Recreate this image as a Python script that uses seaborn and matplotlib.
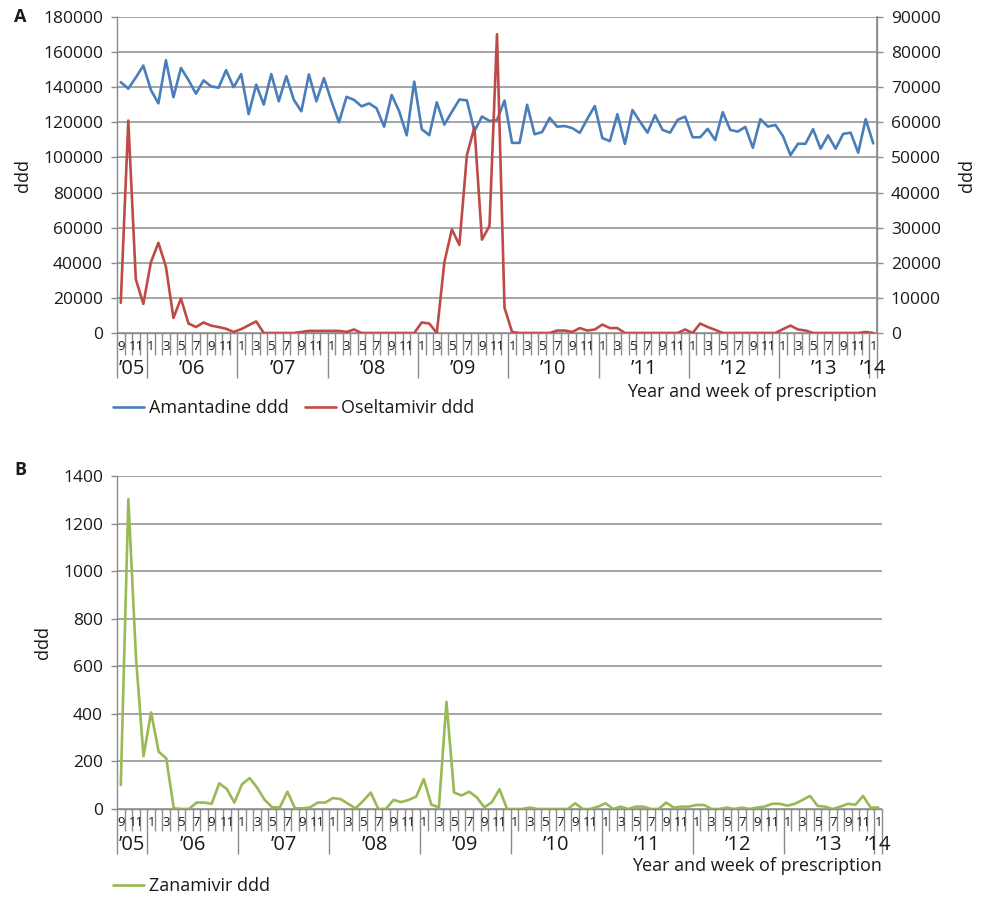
import numpy as np
import pandas as pd
import matplotlib
matplotlib.use("Agg")
import matplotlib.pyplot as plt
import matplotlib.transforms as mtransforms
from matplotlib.lines import Line2D
import seaborn as sns

# ---------------- data ----------------
years = ["\u201905", "\u201906", "\u201907", "\u201908", "\u201909", "\u201910",
         "\u201911", "\u201912", "\u201913", "\u201914"]
periods_per_year = [4, 12, 12, 12, 12, 12, 12, 12, 12, 1]
first_period = 9

amantadine = [142900, 139200, 145500, 152300, 138500, 130800, 155400, 134300, 151000, 144100,
              136300, 143900, 140500, 139700, 149700, 140000, 147500, 124700, 141500, 130100,
              147500, 132000, 146300, 132800, 126300, 147300, 132000, 145200, 132000, 120000,
              134500, 132800, 129100, 130800, 128000, 117500, 135600, 126300, 112600, 143200,
              116100, 112700, 131400, 118700, 126000, 133000, 132500, 115000, 123300, 120800,
              121300, 132400, 108300, 108300, 130000, 113200, 114500, 122600, 117500, 117900,
              116700, 114000, 122000, 129300, 111000, 109300, 124600, 107700, 127000, 120400,
              114100, 124100, 115700, 114100, 121400, 123300, 111500, 111500, 116300, 109900,
              125800, 115700, 114700, 117400, 105500, 121800, 117600, 118500, 112200, 101300,
              107800, 107800, 116100, 105000, 112600, 105000, 113400, 114100, 102700, 121800,
              108000]

oseltamivir = [8600, 60500, 15300, 8300, 20100, 25700, 18900, 4300, 9800, 2700,
               1700, 3000, 2100, 1700, 1200, 300, 1100, 2200, 3300, 0,
               0, 0, 0, 0, 300, 600, 600, 600, 600, 600,
               300, 1000, 0, 0, 0, 0, 0, 0, 0, 0,
               3000, 2700, 0, 20100, 29500, 25100, 50700, 58600, 26600, 30500,
               85100, 7200, 300, 0, 0, 0, 0, 0, 700, 700,
               300, 1400, 700, 1000, 2400, 1400, 1400, 0, 0, 0,
               0, 0, 0, 0, 0, 1000, 0, 2700, 1700, 900,
               0, 0, 0, 0, 0, 0, 0, 0, 1100, 2100,
               1000, 700, 0, 0, 0, 0, 0, 0, 0, 300,
               0]

zanamivir = [101, 1303, 639, 222, 406, 241, 213, 3, 0, 0,
             27, 27, 22, 108, 84, 27, 104, 130, 90, 38,
             7, 7, 73, 3, 3, 7, 27, 27, 46, 42,
             22, 3, 34, 69, 0, 0, 38, 29, 38, 52,
             126, 18, 7, 450, 69, 57, 73, 49, 7, 29,
             83, 0, 0, 0, 6, 0, 0, 0, 0, 0,
             24, 0, 0, 10, 24, 0, 10, 0, 10, 10,
             0, 0, 27, 6, 10, 10, 17, 17, 0, 0,
             6, 0, 6, 0, 6, 10, 22, 22, 14, 22,
             38, 55, 13, 10, 0, 10, 22, 18, 55, 6,
             6]

# ---------------- derived labels ----------------
period_labels = []
year_start = []
for yi, (yr, n) in enumerate(zip(years, periods_per_year)):
    start = first_period if yi == 0 else 1
    year_start.append(len(period_labels))
    for k in range(n):
        period_labels.append(start + k)
n_pts = len(period_labels)
idx = np.arange(n_pts)

df = pd.DataFrame({"idx": idx, "Amantadine ddd": amantadine,
                   "Oseltamivir ddd": oseltamivir, "Zanamivir ddd": zanamivir})

BLUE = "#4A7EBB"
RED = "#BE4B48"
GREEN = "#98B954"
GRID = "#8C8C8C"
TXT = "#1a1a1a"

sns.set_theme(style="white")
plt.rcParams['font.family'] = ['Open Sans', 'DejaVu Sans']
plt.rcParams['text.color'] = TXT
plt.rcParams['axes.labelcolor'] = TXT
plt.rcParams['xtick.color'] = GRID
plt.rcParams['ytick.color'] = GRID
plt.rcParams['xtick.labelcolor'] = TXT
plt.rcParams['ytick.labelcolor'] = TXT

W, H = 997, 900
fig = plt.figure(figsize=(W / 100, H / 100), dpi=100)


def px_rect(l, t, r, b):
    return [l / W, 1 - b / H, (r - l) / W, (b - t) / H]


def decorate_x(ax):
    ax.set_xlim(-0.5, n_pts - 0.5)
    bounds_all = np.arange(n_pts + 1) - 0.5
    year_bounds = [s - 0.5 for s in year_start] + [n_pts - 0.5]
    ax.set_xticks(year_bounds)
    ax.set_xticks(bounds_all, minor=True)
    ax.tick_params(axis="x", which="major", bottom=True, length=45 * 0.72, width=1.0,
                   direction="out", color=GRID, labelbottom=False)
    ax.tick_params(axis="x", which="minor", bottom=True, length=22 * 0.72, width=1.0,
                   direction="out", color=GRID, labelbottom=False)
    tr_p = mtransforms.offset_copy(ax.get_xaxis_transform(), fig=fig, y=-14, units="dots")
    for i, p in enumerate(period_labels):
        if i % 2 == 0:
            ax.text(i, 0, str(p), transform=tr_p, ha="center", va="center",
                    fontsize=9.5, color=TXT)
    tr_y = mtransforms.offset_copy(ax.get_xaxis_transform(), fig=fig, y=-36, units="dots")
    for yi, yr in enumerate(years):
        s = year_start[yi]
        e = s + periods_per_year[yi] - 1
        ax.text((s + e) / 2, 0, yr, transform=tr_y, ha="center", va="center",
                fontsize=14.5, color=TXT)


def style_axes(ax):
    for side in ["top"]:
        ax.spines[side].set_visible(False)
    for side in ["left", "right", "bottom"]:
        ax.spines[side].set_color(GRID)
        ax.spines[side].set_linewidth(1.0)
    ax.grid(axis="y", color=GRID, linewidth=1.1)
    ax.grid(axis="x", visible=False)
    ax.tick_params(axis="y", left=True, length=4, width=1.0, color=GRID, pad=6, labelsize=12.5)


# ---------------- Panel A ----------------
axA = fig.add_axes(px_rect(117, 17, 877, 333))
sns.lineplot(data=df, x="idx", y="Amantadine ddd", ax=axA, color=BLUE, linewidth=1.9)
axA.set_ylim(0, 180000)
axA.set_yticks(np.arange(0, 180001, 20000))
style_axes(axA)
axA.set_xlabel("")
axA.set_ylabel("ddd", fontsize=13, labelpad=8)
decorate_x(axA)

axR = axA.twinx()
sns.lineplot(data=df, x="idx", y="Oseltamivir ddd", ax=axR, color=RED, linewidth=1.9)
axR.set_ylim(0, 90000)
axR.set_yticks(np.arange(0, 90001, 10000))
axR.set_xlim(-0.5, n_pts - 0.5)
for side in ["top", "left", "bottom"]:
    axR.spines[side].set_visible(False)
axR.spines["right"].set_color(GRID)
axR.grid(False)
axR.tick_params(axis="y", right=True, length=4, width=1.0, color=GRID, pad=6, labelsize=12.5)
axR.set_ylabel("ddd", fontsize=13, rotation=90, labelpad=12)
axR.set_xlabel("")
axR.tick_params(axis="x", bottom=False, labelbottom=False, which="both")

fig.text(877 / W, 1 - 392 / H, "Year and week of prescription", ha="right", va="center",
         fontsize=13)
fig.text(14 / W, 1 - 17 / H, "A", ha="left", va="center", fontsize=13, fontweight="bold")

hA = [Line2D([], [], color=BLUE, linewidth=1.9), Line2D([], [], color=RED, linewidth=1.9)]
fig.legend(hA, ["Amantadine ddd", "Oseltamivir ddd"], loc="center left",
           bbox_to_anchor=(113 / W, 1 - 408 / H), ncol=2, frameon=False, fontsize=13,
           handlelength=1.7, handletextpad=0.3, columnspacing=0.9, borderpad=0,
           borderaxespad=0)

# ---------------- Panel B ----------------
axB = fig.add_axes(px_rect(117, 476, 882, 809))
sns.lineplot(data=df, x="idx", y="Zanamivir ddd", ax=axB, color=GREEN, linewidth=1.9)
axB.set_ylim(0, 1400)
axB.set_yticks(np.arange(0, 1401, 200))
style_axes(axB)
axB.spines["right"].set_visible(False)
axB.set_xlabel("")
axB.set_ylabel("ddd", fontsize=13, labelpad=8)
decorate_x(axB)

fig.text(882 / W, 1 - 866 / H, "Year and week of prescription", ha="right", va="center",
         fontsize=13)
fig.text(14 / W, 1 - 470 / H, "B", ha="left", va="center", fontsize=13, fontweight="bold")

hB = [Line2D([], [], color=GREEN, linewidth=1.9)]
fig.legend(hB, ["Zanamivir ddd"], loc="center left",
           bbox_to_anchor=(113 / W, 1 - 886 / H), ncol=1, frameon=False, fontsize=13,
           handlelength=1.7, handletextpad=0.3, borderpad=0, borderaxespad=0)

fig.savefig("out.png", dpi=100)
